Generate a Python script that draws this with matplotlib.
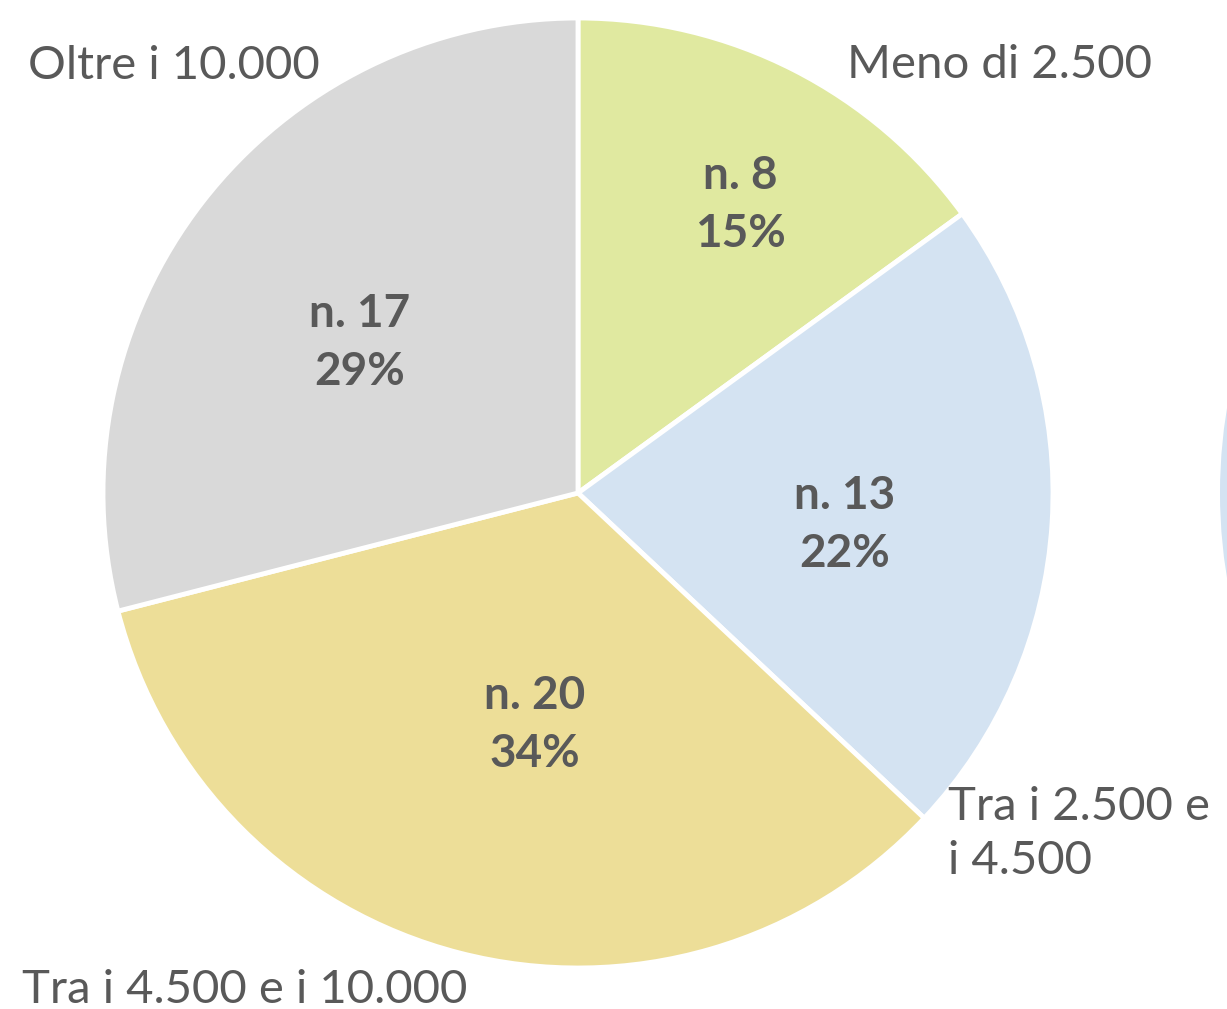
import matplotlib.pyplot as plt
from matplotlib.patches import Circle

# data
categories = ["Meno di 2.500", "Tra i 2.500 e\ni 4.500", "Tra i 4.500 e i 10.000", "Oltre i 10.000"]
counts = [8, 13, 20, 17]
percents = [15, 22, 34, 29]
colours = ["#E0E9A0", "#D4E3F2", "#EDDE98", "#D9D9D9"]

W, H = 1227, 1009
txt_col = "#595959"
plt.rcParams['font.family'] = ['Lato', 'DejaVu Sans']

fig = plt.figure(figsize=(W / 100, H / 100), dpi=100)
ax = fig.add_axes([0, 0, 1, 1])

cx, cy, R = 578, H - 493, 475

# part of the neighbouring chart, cut at the right edge
ax.add_patch(Circle((1220 + 520, cy), 520, facecolor="#D4E3F2", edgecolor="none"))

wedges, _ = ax.pie(percents, colors=colours, startangle=90, counterclock=False,
                   center=(cx, cy), radius=R, frame=True,
                   wedgeprops=dict(edgecolor="white", linewidth=3.5))
ax.set_xlim(0, W)
ax.set_ylim(0, H)
ax.set_aspect('equal')
ax.axis('off')

# inside labels (pixel positions of the label centres)
inner_pos = [(740, 205), (845, 525), (535, 725), (360, 343)]
for (x, y), n, p in zip(inner_pos, counts, percents):
  ax.text(x, H - y, "n. %d\n%d%%" % (n, p), ha='center', va='center',
          fontsize=33, fontweight='bold', color=txt_col, linespacing=1.45)

# outside labels
outer_pos = [(847, 65), (948, 834), (22, 990), (28, 66)]
for (x, y), lab in zip(outer_pos, categories):
  ax.text(x, H - y, lab, ha='left', va='center', fontsize=34,
          color=txt_col, linespacing=1.38)

plt.savefig("out.png", dpi=100)
